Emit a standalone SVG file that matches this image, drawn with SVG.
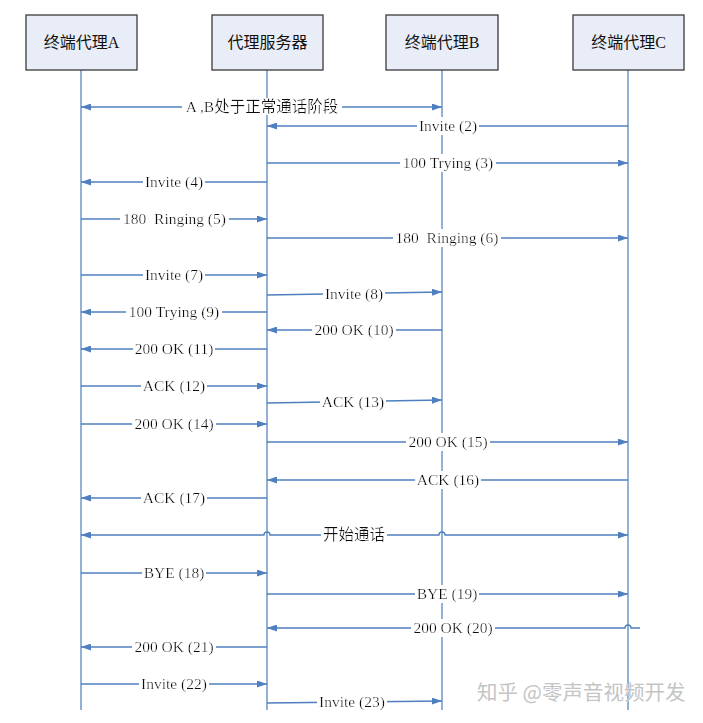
<svg xmlns="http://www.w3.org/2000/svg" width="703" height="723" viewBox="0 0 703 723">
<defs>
<style>
.box{fill:#e9edf7;stroke:#3a3a3a;stroke-width:1.3}
.life{stroke:#5a86c2;stroke-width:1.3;fill:none}
.msg{stroke:#4f7fbf;stroke-width:1.3;fill:none}
.arr{marker-end:url(#ah)}
.dbl{marker-start:url(#ah);marker-end:url(#ah)}
.ttl{font-family:"Liberation Serif","Noto Sans CJK SC",serif;font-size:16px;fill:#111;text-anchor:middle}
.lbl{font-family:"Liberation Serif","Noto Sans CJK SC",serif;font-size:15.5px;fill:#111;text-anchor:middle;filter:url(#bg)}
.wm{font-family:"Noto Sans CJK SC","Noto Sans",sans-serif;font-size:20.5px;fill:#c4c4c4;stroke:#ffffff;stroke-width:0.6;paint-order:stroke}
</style>
<marker id="ah" viewBox="0 0 10 7" refX="10" refY="3.5" markerWidth="10" markerHeight="7" markerUnits="userSpaceOnUse" orient="auto-start-reverse">
<path d="M0,0 L10,3.5 L0,7 z" fill="#4f7fbf"/>
</marker>
<filter id="bg" x="-0.02" y="0.05" width="1.04" height="0.9">
<feFlood flood-color="#ffffff"/>
<feMerge><feMergeNode/><feMergeNode in="SourceGraphic"/></feMerge>
</filter>
</defs>
<rect width="703" height="723" fill="#ffffff"/>

<g id="node-a">
<line class="life" x1="81" y1="70" x2="81" y2="710"/>
<rect class="box" x="26" y="15" width="111" height="55"/>
<text class="ttl" x="81.5" y="48">终端代理A</text>
</g>
<g id="node-proxy">
<line class="life" x1="267" y1="70" x2="267" y2="710"/>
<rect class="box" x="212" y="15" width="111" height="55"/>
<text class="ttl" x="267.5" y="48">代理服务器</text>
</g>
<g id="node-b">
<line class="life" x1="442" y1="70" x2="442" y2="710"/>
<rect class="box" x="386" y="15" width="112" height="55"/>
<text class="ttl" x="442" y="48">终端代理B</text>
</g>
<g id="node-c">
<line class="life" x1="628" y1="70" x2="628" y2="710"/>
<rect class="box" x="573" y="15" width="111" height="55"/>
<text class="ttl" x="628.5" y="48">终端代理C</text>
</g>

<g id="connectors">
<path class="msg dbl" d="M81,107 H442"/>
<text class="lbl" x="262" y="112">A ,B处于正常通话阶段</text>

<path class="msg arr" d="M628,126 H267"/>
<text class="lbl" x="448" y="131">Invite (2)</text>

<path class="msg arr" d="M267,163 H628"/>
<text class="lbl" x="448" y="168">100 Trying (3)</text>

<path class="msg arr" d="M267,182 H81"/>
<text class="lbl" x="174" y="187">Invite (4)</text>

<path class="msg arr" d="M81,219 H267"/>
<text class="lbl" x="174.5" y="224">180&#160; Ringing (5)</text>

<path class="msg arr" d="M267,238 H628"/>
<text class="lbl" x="447" y="243">180&#160; Ringing (6)</text>

<path class="msg arr" d="M81,275 H267"/>
<text class="lbl" x="174" y="280">Invite (7)</text>

<path class="msg arr" d="M267,295 L442,292"/>
<text class="lbl" x="354" y="298.5">Invite (8)</text>

<path class="msg arr" d="M267,312 H81"/>
<text class="lbl" x="174" y="317">100 Trying (9)</text>

<path class="msg arr" d="M442,330 H267"/>
<text class="lbl" x="354" y="335">200 OK (10)</text>

<path class="msg arr" d="M267,349 H81"/>
<text class="lbl" x="174" y="354">200 OK (11)</text>

<path class="msg arr" d="M81,386 H267"/>
<text class="lbl" x="174" y="391">ACK (12)</text>

<path class="msg arr" d="M267,403 L442,400"/>
<text class="lbl" x="353" y="406.5">ACK (13)</text>

<path class="msg arr" d="M81,424 H267"/>
<text class="lbl" x="174" y="429">200 OK (14)</text>

<path class="msg arr" d="M267,442 H628"/>
<text class="lbl" x="448" y="447">200 OK (15)</text>

<path class="msg arr" d="M628,480 H267"/>
<text class="lbl" x="448" y="485">ACK (16)</text>

<path class="msg arr" d="M267,498 H81"/>
<text class="lbl" x="174" y="503">ACK (17)</text>

<path class="msg dbl" d="M81,535 H264 A3,3 0 0 1 270,535 H439 A3,3 0 0 1 445,535 H628"/>
<text class="lbl" x="354" y="540">开始通话</text>

<path class="msg arr" d="M81,573 H267"/>
<text class="lbl" x="174" y="578">BYE (18)</text>

<path class="msg arr" d="M267,594 H628"/>
<text class="lbl" x="447" y="599">BYE (19)</text>

<path class="msg arr" d="M640,628 H631 A3,3 0 0 0 625,628 H267"/>
<text class="lbl" x="453" y="633">200 OK (20)</text>

<path class="msg arr" d="M267,647 H81"/>
<text class="lbl" x="174" y="652">200 OK (21)</text>

<path class="msg arr" d="M81,684 H267"/>
<text class="lbl" x="174" y="689">Invite (22)</text>

<path class="msg arr" d="M267,703 L442,701"/>
<text class="lbl" x="352" y="707">Invite (23)</text>
</g>

<text class="wm" x="477" y="700">知乎 @零声音视频开发</text>
</svg>
